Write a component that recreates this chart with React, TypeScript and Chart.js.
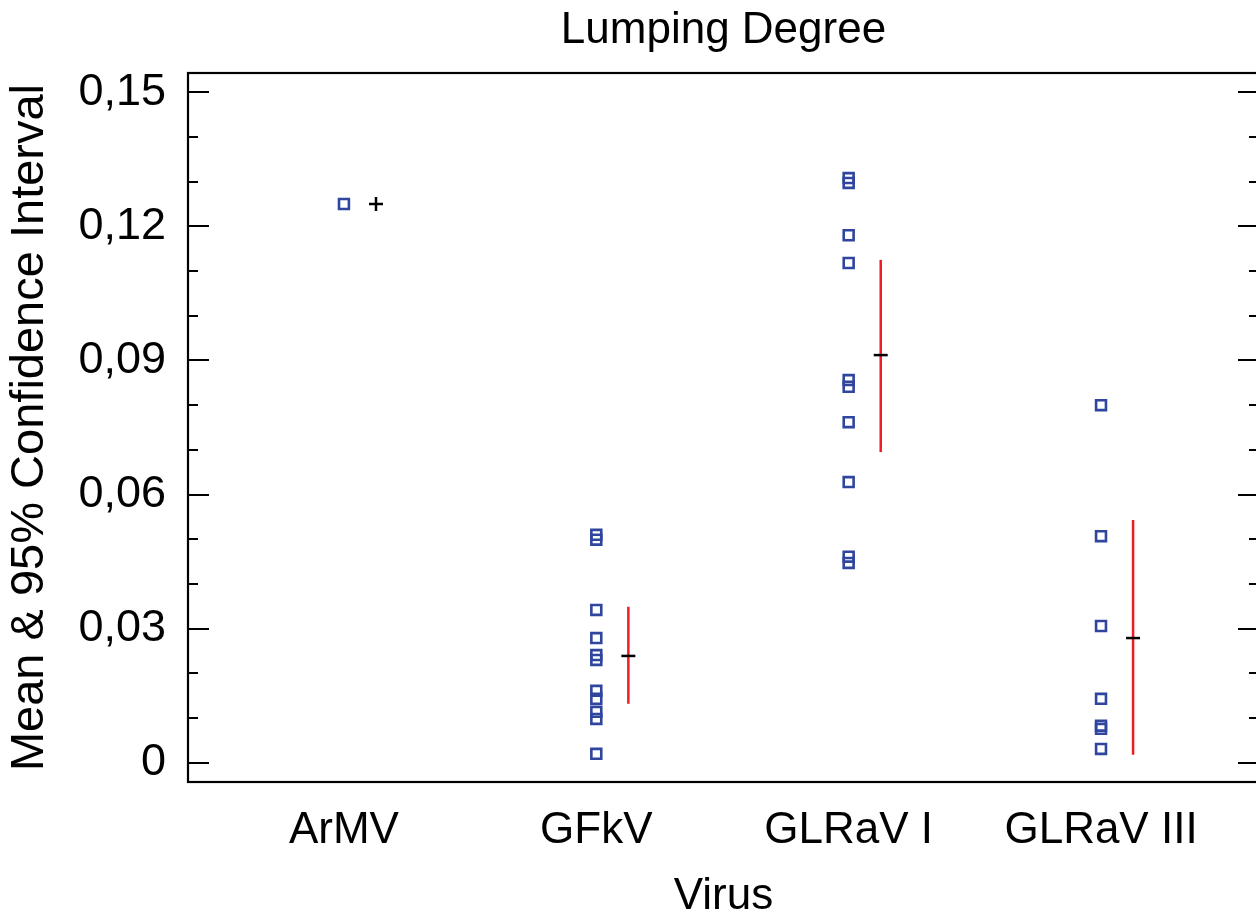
import React, { useEffect, useRef } from 'react';
import { Chart, registerables } from 'chart.js';

Chart.register(...registerables);

// ---- Data ----
const categories = ['ArMV', 'GFkV', 'GLRaV I', 'GLRaV III'];
const armvValues = [0.125];
const gfkvValues = [0.051, 0.0499, 0.0342, 0.0279, 0.0241, 0.023, 0.0161, 0.0143, 0.0114, 0.0098, 0.002];
const glrav1Values = [0.1308, 0.1297, 0.118, 0.1118, 0.0856, 0.0841, 0.0762, 0.0628, 0.0461, 0.0447];
const glrav3Values = [0.08, 0.0507, 0.0306, 0.0143, 0.0083, 0.0076, 0.0031];
const means = [0.125, 0.0239, 0.0912, 0.0279];
const ciLower = [null, 0.0132, 0.0695, 0.0018];
const ciUpper = [null, 0.0349, 0.1125, 0.0543];
const yTicks = [0, 0.03, 0.06, 0.09, 0.12, 0.15];
const yMinorTicks = [0.01, 0.02, 0.04, 0.05, 0.07, 0.08, 0.1, 0.11, 0.13, 0.14];

const groups = [armvValues, gfkvValues, glrav1Values, glrav3Values];
const MEAN_OFFSET = 0.127;

const framePlugin = {
  id: 'frameTicks',
  afterDatasetsDraw(chart: any) {
    const { ctx, chartArea, scales } = chart;
    const { left, right, top, bottom } = chartArea;
    const y = scales.y;
    ctx.save();
    ctx.strokeStyle = '#000';
    ctx.lineWidth = 2.2;
    const drawTick = (v: number, len: number) => {
      const py = Math.round(y.getPixelForValue(v));
      ctx.beginPath();
      ctx.moveTo(left, py);
      ctx.lineTo(left + len, py);
      ctx.moveTo(right, py);
      ctx.lineTo(right - len, py);
      ctx.stroke();
    };
    yTicks.forEach((v) => drawTick(v, 21));
    yMinorTicks.forEach((v) => drawTick(v, 10));
    ctx.strokeRect(left, top, right - left, bottom - top);
    ctx.restore();
  },
};

export default function App() {
  const canvasRef = useRef<HTMLCanvasElement | null>(null);

  useEffect(() => {
    if (!canvasRef.current) return;
    Chart.defaults.font.family = "'Liberation Sans', Arial, sans-serif";
    Chart.defaults.color = '#000';

    const observations = groups.flatMap((vals, i) => vals.map((v) => ({ x: i, y: v })));
    const meanPoints = means.map((m, i) => ({ x: i + MEAN_OFFSET, y: m }));
    const ciDatasets = categories
      .map((_, i) => i)
      .filter((i) => ciLower[i] !== null && ciUpper[i] !== null)
      .map((i) => ({
        label: 'CI ' + categories[i],
        data: [
          { x: i + MEAN_OFFSET, y: ciLower[i] as number },
          { x: i + MEAN_OFFSET, y: ciUpper[i] as number },
        ],
        showLine: true,
        borderColor: '#ee1c24',
        borderWidth: 2.5,
        pointRadius: 0,
        order: 1,
      }));

    const chart = new Chart(canvasRef.current, {
      type: 'scatter',
      data: {
        datasets: [
          {
            label: 'Means',
            data: meanPoints,
            pointStyle: (ctx: any) => (ctx.dataIndex === 0 ? 'cross' : 'line'),
            pointRadius: 7,
            borderColor: '#000',
            backgroundColor: '#000',
            borderWidth: 2.5,
            order: 0,
          } as any,
          ...ciDatasets,
          {
            label: 'Observations',
            data: observations,
            pointStyle: 'rect',
            pointRadius: 7,
            borderColor: '#2f459e',
            backgroundColor: 'rgba(0,0,0,0)',
            borderWidth: 2.6,
            order: 2,
          },
        ],
      },
      options: {
        animation: false,
        responsive: false,
        maintainAspectRatio: false,
        devicePixelRatio: 1,
        layout: { autoPadding: false, padding: { left: 0, right: 1, top: 0, bottom: 0 } },
        plugins: {
          legend: { display: false },
          tooltip: { enabled: false },
          title: { display: false },
        },
        scales: {
          x: {
            type: 'linear',
            min: -0.618,
            max: 3.626,
            afterBuildTicks: (axis: any) => {
              axis.ticks = categories.map((_, i) => ({ value: i }));
            },
            afterFit: (scale: any) => {
              scale.height = 137;
              scale.paddingLeft = 0;
              scale.paddingRight = 0;
            },
            ticks: {
              autoSkip: false,
              maxRotation: 0,
              padding: 22,
              font: { size: 44 },
              color: '#000',
              callback: (v: any) => categories[Math.round(Number(v))] ?? '',
            },
            grid: { display: false, drawTicks: false },
            border: { display: false },
            title: {
              display: true,
              text: 'Virus',
              color: '#000',
              font: { size: 44, lineHeight: 1 },
              padding: { top: 0, bottom: 0 },
            },
          },
          xTop: {
            type: 'linear',
            position: 'top',
            min: -0.618,
            max: 3.626,
            afterBuildTicks: (axis: any) => {
              axis.ticks = [];
            },
            afterFit: (scale: any) => {
              scale.height = 73;
              scale.paddingLeft = 0;
              scale.paddingRight = 0;
            },
            ticks: { display: false },
            grid: { display: false, drawTicks: false },
            border: { display: false },
            title: {
              display: true,
              text: 'Lumping Degree',
              color: '#000',
              font: { size: 44, lineHeight: 1.2 },
              padding: { top: 4, bottom: 0 },
            },
          },
          y: {
            type: 'linear',
            min: -0.0043,
            max: 0.1543,
            afterBuildTicks: (axis: any) => {
              axis.ticks = yTicks.map((v) => ({ value: v }));
            },
            afterFit: (scale: any) => {
              scale.width = 188;
            },
            ticks: {
              padding: 22,
              font: { size: 45 },
              color: '#000',
              callback: (v: any) => (Number(v) === 0 ? '0' : Number(v).toFixed(2).replace('.', ',')),
            },
            grid: { display: false, drawTicks: false },
            border: { display: false },
            title: {
              display: true,
              text: 'Mean & 95% Confidence Interval',
              color: '#000',
              font: { size: 47, lineHeight: 1 },
              padding: { top: 7, bottom: 0 },
            },
          },
        },
      } as any,
      plugins: [framePlugin],
    });

    return () => chart.destroy();
  }, []);

  return (
    <div
      style={{
        position: 'fixed',
        left: 0,
        top: 0,
        width: 1256,
        height: 914,
        overflow: 'hidden',
        background: '#fff',
      }}
    >
      <canvas ref={canvasRef} width={1260} height={919} style={{ display: 'block', width: 1260, height: 919 }} />
    </div>
  );
}
